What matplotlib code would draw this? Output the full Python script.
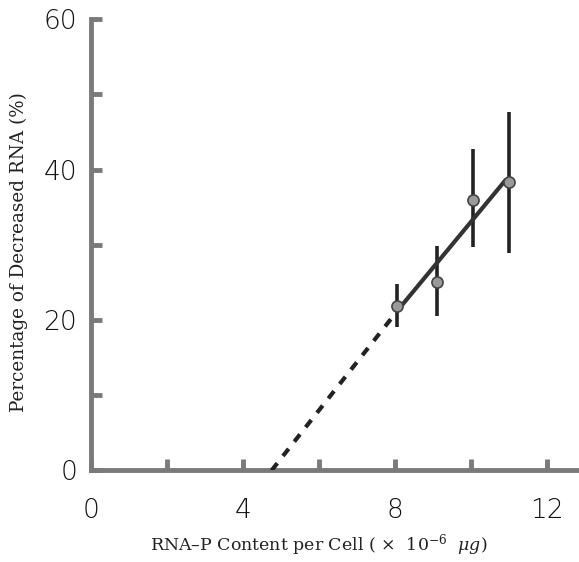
import matplotlib
matplotlib.use("Agg")
import matplotlib.pyplot as plt

plt.rcParams["mathtext.fontset"] = "dejavuserif"

# measured points (x: RNA-P per cell, y: % decreased RNA)
rna_p = [8.05, 9.1, 10.05, 11.0]
pct_decreased = [21.9, 25.0, 36.0, 38.3]
err_low = [19.0, 20.5, 29.7, 28.9]
err_high = [24.8, 29.8, 42.7, 47.6]

# fitted line, solid part and dashed extrapolation to the x axis
fit_x = [8.1, 10.9]
fit_y = [21.5, 38.6]
extrap_x = [4.75, 8.1]
extrap_y = [0.0, 21.5]

x_ticks = [0, 2, 4, 6, 8, 10, 12]
x_ticklabels = ["0", "", "4", "", "8", "", "12"]
y_ticks = [0, 10, 20, 30, 40, 50, 60]
y_ticklabels = ["0", "", "20", "", "40", "", "60"]

fig = plt.figure(figsize=(5.79, 5.62), dpi=100)
ax = fig.add_axes([0.157, 0.163, 0.843, 0.803])

axis_col = "#7a7a7a"
ax.errorbar(rna_p, pct_decreased,
            yerr=[[p - lo for p, lo in zip(pct_decreased, err_low)],
                  [hi - p for p, hi in zip(pct_decreased, err_high)]],
            fmt="none", ecolor="#222222", elinewidth=2.6, capsize=0, zorder=3)
ax.plot(fit_x, fit_y, color="#333333", lw=3, solid_capstyle="round", zorder=4)
ax.plot(extrap_x, extrap_y, color="#222222", lw=3, dashes=(2.2, 2.2), zorder=4)
ax.plot(rna_p, pct_decreased, "o", ms=8, mfc="#9a9a9a", mec="#444444",
        mew=1.2, zorder=5)

ax.set_xlim(0, 12.83)
ax.set_ylim(0, 60)
for side in ("top", "right"):
    ax.spines[side].set_visible(False)
for side in ("left", "bottom"):
    ax.spines[side].set_linewidth(3.5)
    ax.spines[side].set_color(axis_col)

ax.set_xticks(x_ticks)
ax.set_xticklabels(x_ticklabels)
ax.set_yticks(y_ticks)
ax.set_yticklabels(y_ticklabels)
ax.tick_params(axis="both", direction="in", length=8, width=3.5,
               color=axis_col, labelsize=19, labelcolor="#111111")
ax.tick_params(axis="x", pad=20)
ax.tick_params(axis="y", pad=10)
for lbl in ax.get_xticklabels() + ax.get_yticklabels():
    lbl.set_family("DejaVu Sans")
    lbl.set_fontweight("light")

fig.text(0.55, 0.03, "RNA\u2013P Content per Cell ( $\\times$  10$^{-6}$  $\\mu g$)",
         ha="center", va="center", fontsize=12.5, family="DejaVu Serif",
         color="#222222")
fig.text(0.032, 0.552, "Percentage of Decreased RNA (%)", rotation=90,
         ha="center", va="center", fontsize=13.2, family="DejaVu Serif",
         color="#222222")

fig.savefig("out.png", dpi=100)
